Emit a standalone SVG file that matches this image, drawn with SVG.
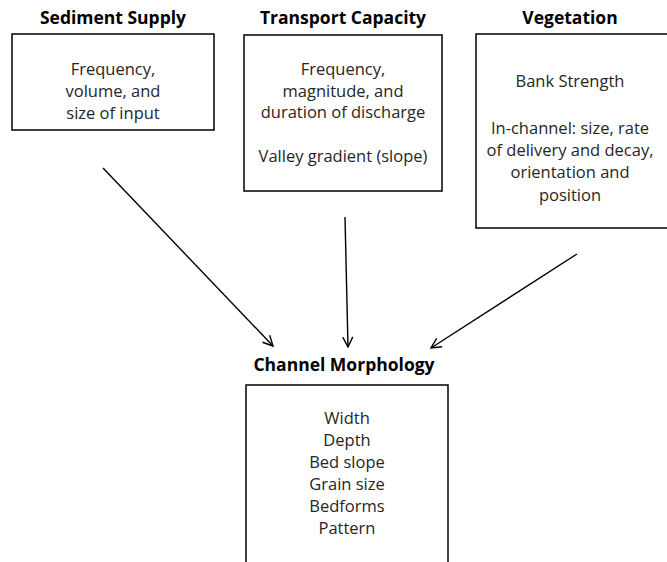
<svg xmlns="http://www.w3.org/2000/svg" width="667" height="562" viewBox="0 0 667 562">
  <style>
    .box { fill: #ffffff; stroke: #000000; stroke-width: 1.5; }
    .title { font-family: "Open Sans", "Liberation Sans", sans-serif; font-weight: bold; font-size: 17.5px; fill: #000000; text-anchor: middle; }
    .body { font-family: "Open Sans", "Liberation Sans", sans-serif; font-size: 16.5px; fill: #262626; text-anchor: middle; }
    .link { stroke: #000000; stroke-width: 1.4; fill: none; marker-end: url(#open-arrow); }
  </style>
  <defs>
    <marker id="open-arrow" viewBox="0 0 12 12" refX="11" refY="6" markerWidth="12" markerHeight="12" markerUnits="userSpaceOnUse" orient="auto">
      <path d="M1,1 L11,6 L1,11" fill="none" stroke="#000000" stroke-width="1.4"/>
    </marker>
  </defs>
  <rect width="667" height="562" fill="#ffffff"/>

  <!-- Driving factors -->
  <g id="sediment-supply">
    <text class="title" x="113" y="24">Sediment Supply</text>
    <rect class="box" x="12" y="34" width="202" height="96"/>
    <text class="body" x="113" y="75">Frequency,</text>
    <text class="body" x="113" y="97">volume, and</text>
    <text class="body" x="113" y="119">size of input</text>
  </g>

  <g id="transport-capacity">
    <text class="title" x="343" y="24">Transport Capacity</text>
    <rect class="box" x="244" y="35" width="198" height="156"/>
    <text class="body" x="343" y="75">Frequency,</text>
    <text class="body" x="343" y="97">magnitude, and</text>
    <text class="body" x="343" y="118">duration of discharge</text>
    <text class="body" x="343" y="162">Valley gradient (slope)</text>
  </g>

  <g id="vegetation">
    <text class="title" x="570" y="24">Vegetation</text>
    <rect class="box" x="476" y="34" width="192" height="194"/>
    <text class="body" x="570" y="87">Bank Strength</text>
    <text class="body" x="570" y="134">In-channel: size, rate</text>
    <text class="body" x="570" y="156">of delivery and decay,</text>
    <text class="body" x="570" y="178">orientation and</text>
    <text class="body" x="570" y="201">position</text>
  </g>

  <!-- Response -->
  <g id="channel-morphology">
    <text class="title" x="344" y="371">Channel Morphology</text>
    <rect class="box" x="246" y="385" width="202" height="190"/>
    <text class="body" x="347" y="424">Width</text>
    <text class="body" x="347" y="446">Depth</text>
    <text class="body" x="347" y="468">Bed slope</text>
    <text class="body" x="347" y="490">Grain size</text>
    <text class="body" x="347" y="512">Bedforms</text>
    <text class="body" x="347" y="534">Pattern</text>
  </g>

  <g id="connectors">
    <line class="link" x1="103" y1="168" x2="273" y2="346"/>
    <line class="link" x1="345" y1="217" x2="348" y2="347"/>
    <line class="link" x1="577" y1="254" x2="431" y2="348"/>
  </g>
</svg>
